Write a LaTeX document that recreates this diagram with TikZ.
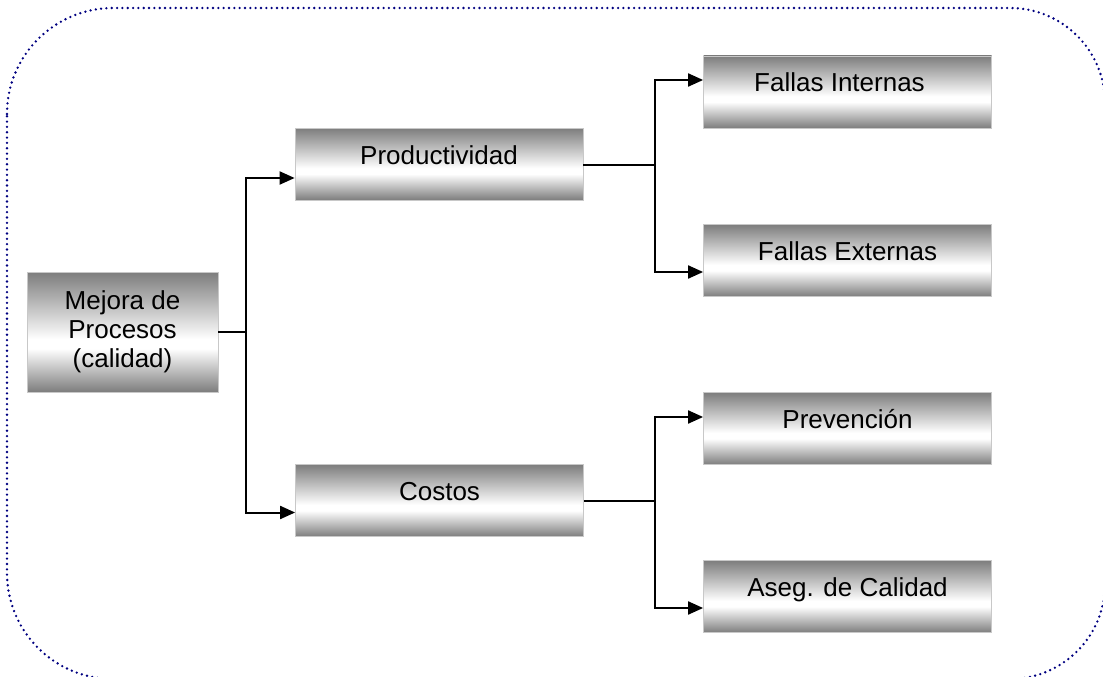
\documentclass[tikz,border=0pt]{standalone}
\usepackage{fontspec}
\setmainfont{Liberation Sans}
\usetikzlibrary{arrows.meta,calc}

\definecolor{framenavy}{RGB}{0,0,128}
\definecolor{boxgray}{RGB}{125,125,125}
\definecolor{boxedge}{RGB}{200,200,200}

% grey at top and bottom, white band a little below the middle
\pgfdeclareverticalshading{boxshade}{100bp}{%
  color(0bp)=(boxgray); color(25bp)=(boxgray);
  color(43bp)=(white); color(47bp)=(white);
  color(75bp)=(boxgray); color(100bp)=(boxgray)}

\tikzset{
  frame/.style={draw=framenavy, line width=2.6pt, line cap=round,
                dash pattern=on 0pt off 5.33pt},
  box/.style={rectangle, shade, shading=boxshade, draw=boxedge,
              line width=0.8pt, inner sep=0pt,
              font=\fontsize{26}{29}\selectfont},
  onebox/.style={box, minimum width=288pt, minimum height=72pt,
                 text height=20pt, text depth=20pt},
  link/.style={draw=black, line width=2pt},
  arrow/.style={link, -{Triangle[length=15pt,width=13pt]}}
}

\begin{document}
\begin{tikzpicture}[x=1pt,y=-1pt]
  \useasboundingbox (0,0) rectangle (1103,677);

  % dotted rounded frame around the whole chart
  \draw[frame] (7,114) .. controls (7,55.5) and (54.5,8) .. (113,8)
    -- (1010,8) .. controls (1062.5,8) and (1105,50.5) .. (1105,103)
    -- (1105,584) .. controls (1105,636.5) and (1062.5,679) .. (1010,679)
    -- (113,679) .. controls (54.5,679) and (7,631.5) .. (7,573) -- cycle;

  % boxes
  \node[box, minimum width=191pt, minimum height=120pt, align=center]
    (mej) at (122.5,332) {Mejora de\\Procesos\\(calidad)};
  \node[onebox] (prod) at (439,164)   {Productividad};
  \node[onebox] (cos)  at (439.5,500.5) {Costos};
  \node[onebox] (fi)   at (847.5,92)  {Fallas Internas\hspace*{16pt}};
  \node[onebox] (fe)   at (847.5,260.5) {Fallas Externas};
  \node[onebox] (prev) at (847.5,428.5) {Prevención};
  \node[onebox] (aseg) at (847.5,596.5) {Aseg. de Calidad};

  % branch points
  \coordinate (j1) at (246,332);
  \coordinate (j2) at (655,165);
  \coordinate (j3) at (655,501);

  % first level
  \draw[link]  (mej.east) -- (j1);
  \draw[arrow] (j1) |- ($(prod.west)+(0,14)$);
  \draw[arrow] (j1) |- ($(cos.west)+(0,12)$);

  % second level
  \draw[link]  (prod.east |- j2) -- (j2);
  \draw[arrow] (j2) |- ($(fi.west)+(0,-12)$);
  \draw[arrow] (j2) |- ($(fe.west)+(0,11.5)$);

  \draw[link]  (cos.east |- j3) -- (j3);
  \draw[arrow] (j3) |- ($(prev.west)+(0,-11.5)$);
  \draw[arrow] (j3) |- ($(aseg.west)+(0,11.5)$);
\end{tikzpicture}
\end{document}
